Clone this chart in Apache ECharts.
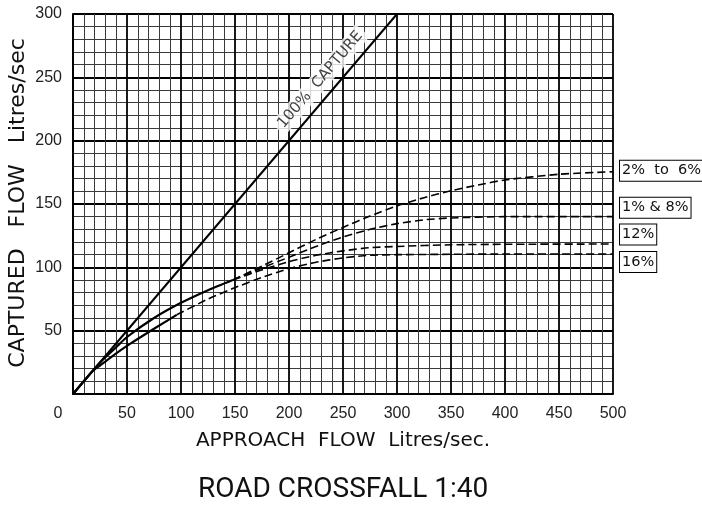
<!DOCTYPE html>
<html>
<head>
<meta charset="utf-8">
<script src="https://cdn.jsdelivr.net/npm/echarts@6/dist/echarts.min.js"></script>
<style>html,body{margin:0;padding:0;background:#fff;}#c{width:702px;height:511px;}</style>
</head>
<body>
<div id="c"></div>
<script>
// Data (x: approach flow, y: captured flow, L/s)
const capture100 = [[0, 0], [300, 300]];
const solidUpper = [[0, 0], [22, 22], [30, 29], [40, 37], [50, 45], [75, 60], [100, 72], [125, 82], [148, 90]];
const solidLower = [[0, 0], [18, 18], [25, 22.5], [35, 29], [50, 38], [75, 51.5], [96, 62.5]];
const cf2to6 = [[148, 90], [175, 101], [200, 111.5], [225, 122], [250, 131.5], [275, 140.5], [300, 148.5], [325, 155], [350, 160.5], [375, 165], [400, 169], [450, 173.5], [500, 175.5]];
const cf1and8 = [[148, 90], [175, 99.5], [200, 108], [225, 116.5], [250, 124], [275, 130], [300, 134.5], [325, 137.5], [350, 139], [400, 140], [500, 140]];
const cf12 = [[148, 90], [175, 98], [200, 104.5], [225, 109.5], [250, 113], [275, 115.5], [300, 116.5], [350, 117.8], [400, 118.2], [500, 118.4]];
const cf16 = [[96, 62.5], [125, 75], [150, 84], [175, 92], [200, 99], [225, 104], [250, 107.5], [275, 109.5], [300, 110], [350, 110.3], [400, 110.5], [500, 110.5]];
const captureLabelAnchor = [[229, 248]];
const seriesNames = ['2%  to  6%', '1% & 8%', '12%', '16%'];

const chart = echarts.init(document.getElementById('c'), null, {renderer: 'canvas'});
const LABEL_FONT = '"Liberation Sans", Arial, sans-serif';
const CAD_FONT = '"DejaVu Sans", sans-serif';

function endLbl(text, dy) {
  return {
    show: true, formatter: text, distance: 7, offset: [0, dy],
    color: '#111', fontFamily: CAD_FONT, fontSize: 14.5,
    borderColor: '#000', borderWidth: 1, padding: [3, 2, 2, 2], backgroundColor: '#fff'
  };
}
const dashStyle = {color: '#000', width: 1.6, type: [8, 4]};

const option = {
  animation: false,
  backgroundColor: '#fff',
  title: {
    text: 'ROAD CROSSFALL 1:40', left: 193, top: 471,
    textStyle: {fontFamily: '"Liberation Sans Narrow", Roboto, sans-serif', fontSize: 28, fontWeight: 'normal', color: '#111'}
  },
  grid: {left: 73, right: 89, top: 14, bottom: 117, containLabel: false, outerBoundsMode: 'none'},
  xAxis: {
    type: 'value', min: 0, max: 500, interval: 50,
    name: 'APPROACH  FLOW  Litres/sec.', nameLocation: 'middle', nameGap: 37,
    nameTextStyle: {fontFamily: CAD_FONT, fontSize: 20, color: '#111'},
    axisLine: {show: true, lineStyle: {color: '#000', width: 2}},
    axisTick: {show: false},
    axisLabel: {
      margin: 12, fontFamily: LABEL_FONT, fontSize: 16, color: '#222',
      formatter: function (v) { return v === 0 ? '{z|0}' : String(v); },
      rich: {z: {fontFamily: LABEL_FONT, fontSize: 16, color: '#222', padding: [0, 30, 0, 0]}}
    },
    splitLine: {show: true, lineStyle: {color: '#000', width: 1.8}},
    minorTick: {show: false, splitNumber: 5},
    minorSplitLine: {show: true, lineStyle: {color: '#3a3a3a', width: 1}}
  },
  yAxis: {
    type: 'value', min: 0, max: 300, interval: 50,
    name: 'CAPTURED   FLOW   Litres/sec', nameLocation: 'middle', nameGap: 44, nameRotate: 90,
    nameMoveOverlap: false,
    nameTextStyle: {fontFamily: CAD_FONT, fontSize: 22, color: '#111', padding: [0, 0, 0, 2]},
    axisLine: {show: true, lineStyle: {color: '#000', width: 2}},
    axisTick: {show: false},
    axisLabel: {margin: 11, fontFamily: LABEL_FONT, fontSize: 16, color: '#222', showMinLabel: false},
    splitLine: {show: true, lineStyle: {color: '#000', width: 1.8}},
    minorTick: {show: false, splitNumber: 5},
    minorSplitLine: {show: true, lineStyle: {color: '#3a3a3a', width: 1}}
  },
  series: [
    {type: 'line', data: capture100, showSymbol: false, lineStyle: {color: '#000', width: 2}, z: 5},
    {type: 'line', data: solidUpper, showSymbol: false, smooth: 0.2, lineStyle: {color: '#000', width: 2.2}, z: 5},
    {type: 'line', data: solidLower, showSymbol: false, smooth: 0.2, lineStyle: {color: '#000', width: 2.2}, z: 5},
    {type: 'line', name: seriesNames[0], data: cf2to6, showSymbol: false, smooth: 0.2, lineStyle: dashStyle, endLabel: endLbl(seriesNames[0], -1), z: 5},
    {type: 'line', name: seriesNames[1], data: cf1and8, showSymbol: false, smooth: 0.2, lineStyle: dashStyle, endLabel: endLbl(seriesNames[1], -9), z: 5},
    {type: 'line', name: seriesNames[2], data: cf12, showSymbol: false, smooth: 0.2, lineStyle: dashStyle, endLabel: endLbl(seriesNames[2], -9.5), z: 5},
    {type: 'line', name: seriesNames[3], data: cf16, showSymbol: false, smooth: 0.2, lineStyle: dashStyle, endLabel: endLbl(seriesNames[3], 8), z: 5},
    {
      type: 'scatter', data: captureLabelAnchor, symbolSize: 0, z: 4,
      label: {
        show: true, position: 'inside', formatter: '100%  CAPTURE', rotate: 49.5,
        fontFamily: CAD_FONT, fontSize: 15, color: '#111', backgroundColor: '#fff', padding: [2, 4]
      }
    }
  ]
};
chart.setOption(option);
</script>
</body>
</html>
